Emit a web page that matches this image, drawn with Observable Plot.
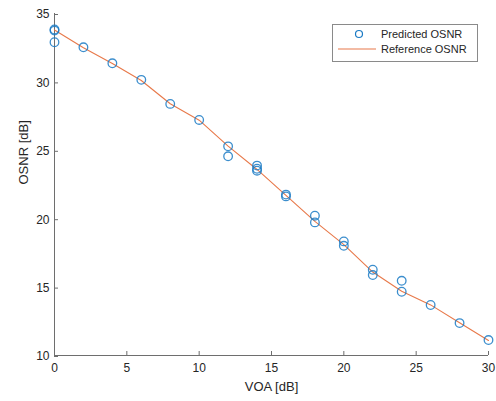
<!DOCTYPE html>
<html><head><meta charset="utf-8">
<script src="https://cdn.jsdelivr.net/npm/d3@7"></script>
<script src="https://cdn.jsdelivr.net/npm/@observablehq/plot@0.6"></script>
<style>
body{margin:0;background:#fff;font-family:"Liberation Sans",Arial,sans-serif;}
#wrap{position:relative;width:496px;height:401px;}
#legend{position:absolute;left:332px;top:24px;width:144px;height:36px;border:1px solid #8a8a8a;background:#fff;font-size:11px;color:#262626;}
</style></head>
<body><div id="wrap"><div id="legend"></div></div>
<script>
const predX = [0,0,0,2,4,6,8,10,12,12,14,14,14,16,16,18,18,20,20,22,22,24,24,26,28,30];
const predY = [33.83,33.75,32.9,32.53,31.36,30.15,28.39,27.22,25.29,24.56,23.88,23.65,23.51,21.76,21.63,20.22,19.73,18.34,18.02,16.27,15.88,15.46,14.66,13.69,12.37,11.13];
const refX = [0,2,4,6,8,10,12,14,16,18,20,22,24,26,28,30];
const refY = [33.8,32.5,31.35,30.1,28.4,27.2,25.3,23.6,21.7,19.8,18.1,16.1,14.7,13.7,12.4,11.1];
const xTicks = [0,5,10,15,20,25,30];
const yTicks = [10,15,20,25,30,35];
const seriesNames = ["Predicted OSNR","Reference OSNR"];

const pred = predX.map((x,i)=>({x, y:predY[i]}));
const ref = refX.map((x,i)=>({x, y:refY[i]}));
const blue = "#1a7ac4", orange = "#e8794a", axisCol = "#6e6e6e";

const chart = Plot.plot({
  width: 496, height: 401,
  marginLeft: 54, marginRight: 8, marginTop: 13, marginBottom: 46,
  style: {fontFamily: '"Liberation Sans", Arial, sans-serif', fontSize: "12px", color: "#262626", background: "#fff"},
  x: {domain: [0,30], ticks: xTicks},
  y: {domain: [10,35], ticks: yTicks},
  marks: [
    Plot.axisX({ticks: xTicks, tickSize: -4, tickPadding: 12, stroke: axisCol, fill: "#262626", label: null, fontSize: 12}),
    Plot.axisY({ticks: yTicks, tickSize: -4, tickPadding: 9, stroke: axisCol, fill: "#262626", label: null, fontSize: 12, dy: 1}),
    Plot.ruleY([10], {stroke: axisCol}),
    Plot.ruleX([0], {stroke: axisCol}),
    Plot.line(ref, {x:"x", y:"y", stroke: orange, strokeWidth: 1.1}),
    Plot.dot(pred, {x:"x", y:"y", r: 4.3, stroke: blue, strokeWidth: 1.3, strokeOpacity: 0.85, fill: "none"}),
    Plot.text(["VOA [dB]"], {frameAnchor: "bottom", dy: 35, fontSize: 13, fill: "#262626"}),
    Plot.text(["OSNR [dB]"], {frameAnchor: "left", dx: -31, rotate: -90, fontSize: 13, fill: "#262626"})
  ]
});
document.getElementById("wrap").prepend(chart);

const lg = document.getElementById("legend");
lg.innerHTML = `<svg width="144" height="36" style="position:absolute;left:0;top:0">
<circle cx="26" cy="9" r="3.5" fill="none" stroke="${blue}" stroke-width="1.2"/>
<line x1="5" y1="24" x2="43" y2="24" stroke="${orange}" stroke-width="1.1"/>
<text x="48" y="13" font-size="11" fill="#262626">${seriesNames[0]}</text>
<text x="48" y="28" font-size="11" fill="#262626">${seriesNames[1]}</text>
</svg>`;
</script>
</body></html>
